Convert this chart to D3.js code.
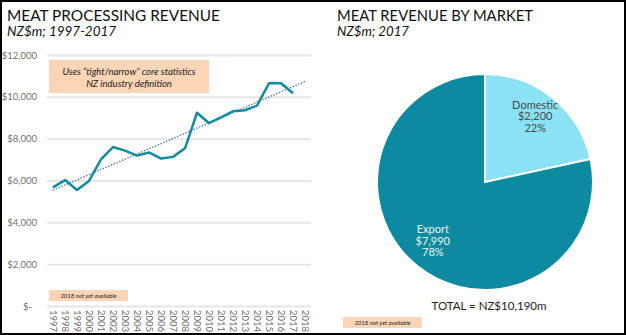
<!DOCTYPE html>
<html>
<head>
<meta charset="utf-8">
<script src="https://cdn.jsdelivr.net/npm/d3@7"></script>
<style>
  body { margin: 0; background: #fff; }
  text { font-family: Lato, "Open Sans", sans-serif; }
</style>
</head>
<body>
<div id="chart"></div>
<script>
// data
var years = d3.range(1997, 2019).map(String);
var revenueYears = d3.range(1997, 2018).map(String);
var revenue = [5670, 6020, 5550, 5980, 7010, 7600, 7430, 7190, 7340, 7050, 7130,
               7540, 9240, 8740, 9020, 9310, 9360, 9580, 10650, 10650, 10170];
var yTicks = [0, 2000, 4000, 6000, 8000, 10000, 12000];

var markets = ["Domestic", "Export"];
var marketValues = [2200, 7990];
var marketColors = ["#8ae2f4", "#0e8aa0"];

var W = 626, H = 335;

var svg = d3.select("#chart")
    .append("svg")
    .attr("width", W)
    .attr("height", H);

// ---------- left: line chart ----------
var x = d3.scaleBand()
    .domain(years)
    .range([47, 311]);

var y = d3.scaleLinear()
    .domain([0, 12000])
    .range([306, 55]);

// gridlines + labels
var yAxis = svg.append("g")
    .attr("transform", "translate(47,0)")
    .call(d3.axisLeft(y)
        .tickValues(yTicks)
        .tickSize(-264)
        .tickPadding(10)
        .tickFormat(function(d) { return d === 0 ? "$-" : "$" + d3.format(",")(d); }));
yAxis.select(".domain").remove();
yAxis.selectAll("line")
    .attr("stroke", "#e6e6e6")
    .attr("stroke-width", 2);
yAxis.selectAll("text")
    .attr("fill", "#707070")
    .style("font-size", "9.5px")
    .attr("dx", function(d) { return d === 0 ? -5 : 0; });

var xAxis = svg.append("g")
    .attr("transform", "translate(0,306)")
    .call(d3.axisBottom(x).tickSize(0).tickPadding(0));
xAxis.select(".domain").remove();
xAxis.selectAll("text")
    .attr("fill", "#707070")
    .style("font-size", "9.5px")
    .attr("transform", "rotate(90)")
    .attr("text-anchor", "start")
    .attr("x", 4)
    .attr("y", 0)
    .attr("dy", "0.32em");

// annotation boxes
svg.append("rect")
    .attr("x", 49).attr("y", 60)
    .attr("width", 160).attr("height", 33)
    .attr("fill", "#fbd5b5");
svg.append("text")
    .attr("x", 129).attr("y", 74.5)
    .attr("text-anchor", "middle")
    .style("font-size", "9.5px")
    .style("font-style", "italic")
    .attr("fill", "#222")
    .text("Uses \u201ctight/narrow\u201d core statistics");
svg.append("text")
    .attr("x", 129).attr("y", 87)
    .attr("text-anchor", "middle")
    .style("font-size", "9.5px")
    .style("font-style", "italic")
    .attr("fill", "#222")
    .text("NZ industry definition");

// trend line (least squares over the revenue series, extended to 2018)
var xi = revenue.map(function(d, i) { return i; });
var mx = d3.mean(xi), my = d3.mean(revenue);
var slope = d3.sum(xi, function(i) { return (i - mx) * (revenue[i] - my); }) /
            d3.sum(xi, function(i) { return (i - mx) * (i - mx); });
var trend = [years[0], years[years.length - 1]].map(function(yr) {
    var i = years.indexOf(yr);
    return { year: yr, value: my + slope * (i - mx) };
});

var cx = function(d) { return x(d.year) + x.bandwidth() / 2; };

svg.append("path")
    .datum(trend)
    .attr("fill", "none")
    .attr("stroke", "#5b7f9c")
    .attr("stroke-width", 1.4)
    .attr("stroke-dasharray", "1.5,1.5")
    .attr("d", d3.line().x(cx).y(function(d) { return y(d.value); }));

var series = revenueYears.map(function(yr, i) { return { year: yr, value: revenue[i] }; });
svg.append("path")
    .datum(series)
    .attr("fill", "none")
    .attr("stroke", "#138b9f")
    .attr("stroke-width", 2.5)
    .attr("stroke-linejoin", "round")
    .attr("d", d3.line().x(cx).y(function(d) { return y(d.value); }));

// titles
function title(xp, yp, size, italic, len, s) {
    svg.append("text")
        .attr("x", xp).attr("y", yp)
        .style("font-size", size + "px")
        .style("font-style", italic ? "italic" : "normal")
        .attr("textLength", len)
        .attr("lengthAdjust", "spacingAndGlyphs")
        .attr("fill", "#111")
        .text(s);
}
title(7, 21, 16, false, 213, "MEAT PROCESSING REVENUE");
title(7, 36, 12.5, true, 109, "NZ$m; 1997-2017");
title(337, 21, 16, false, 196, "MEAT REVENUE BY MARKET");
title(337, 36, 12.5, true, 72, "NZ$m; 2017");

// ---------- right: pie ----------
var radius = 108;
var pieG = svg.append("g")
    .attr("transform", "translate(485,182)");

var pie = d3.pie().sort(null)(marketValues);
var arc = d3.arc().innerRadius(0).outerRadius(radius);
var labelArc = d3.arc().innerRadius(80).outerRadius(80);

pieG.selectAll("path")
    .data(pie)
    .enter()
    .append("path")
    .attr("d", arc)
    .attr("fill", function(d, i) { return marketColors[i]; })
    .attr("stroke", "#fff")
    .attr("stroke-width", 2);

var total = d3.sum(marketValues);
var labels = pieG.selectAll(".lbl")
    .data(pie)
    .enter()
    .append("text")
    .attr("class", "lbl")
    .attr("text-anchor", "middle")
    .style("font-size", "11px")
    .attr("fill", function(d, i) { return i === 0 ? "#4a4a4a" : "#e6f6f9"; })
    .attr("transform", function(d, i) {
        var c = labelArc.centroid(d);
        return "translate(" + (c[0] - (i === 1 ? 2 : 0)) + "," + (c[1] - 11) + ")";
    });
labels.each(function(d, i) {
    var t = d3.select(this);
    var lines = [markets[i], "$" + d3.format(",")(marketValues[i]),
                 Math.round(marketValues[i] / total * 100) + "%"];
    lines.forEach(function(s, k) {
        t.append("tspan")
            .attr("x", 0)
            .attr("y", k * 11.5)
            .text(s);
    });
});

svg.append("text")
    .attr("x", 489).attr("y", 310)
    .attr("text-anchor", "middle")
    .style("font-size", "11.5px")
    .attr("fill", "#222")
    .text("TOTAL = NZ$" + d3.format(",")(total) + "m");

// "not yet available" tags
[[49, 290], [343, 317]].forEach(function(p) {
    svg.append("rect")
        .attr("x", p[0]).attr("y", p[1])
        .attr("width", 79).attr("height", 11)
        .attr("fill", "#fbd5b5");
    svg.append("text")
        .attr("x", p[0] + 39.5).attr("y", p[1] + 7.8)
        .attr("text-anchor", "middle")
        .style("font-size", "6px")
        .style("font-style", "italic")
        .attr("fill", "#222")
        .text("2018 not yet available");
});

// outer frame
svg.append("rect")
    .attr("x", 1).attr("y", 1)
    .attr("width", W - 2).attr("height", H - 2)
    .attr("fill", "none")
    .attr("stroke", "#000")
    .attr("stroke-width", 2);
</script>
</body>
</html>
